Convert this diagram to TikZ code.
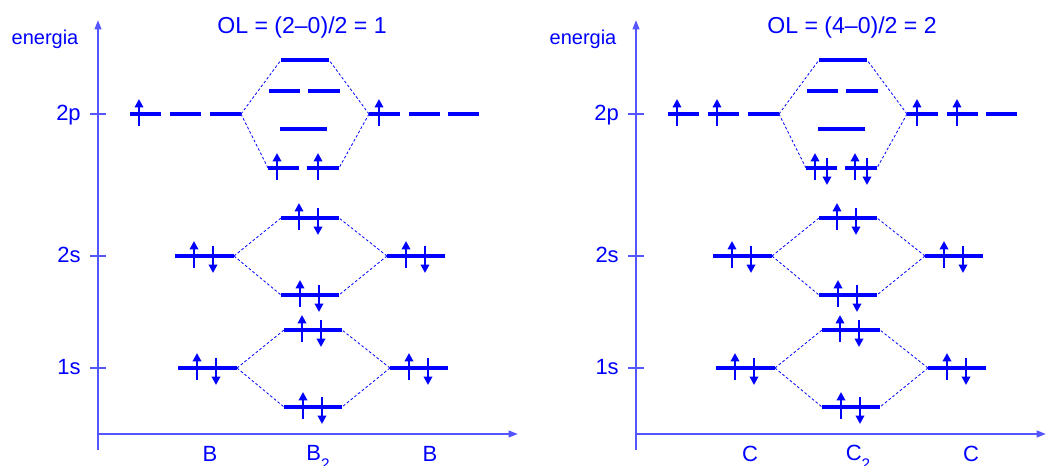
\documentclass[tikz,border=0pt]{standalone}
\usepackage{fontspec}
\setmainfont{Liberation Sans}
\usetikzlibrary{arrows.meta}
\definecolor{mo}{RGB}{0,0,255}
\definecolor{ax}{RGB}{85,85,255}
\newcommand\mlev[4]{\coordinate (#1-l) at (#2,#4); \coordinate (#1-r) at (#3,#4); \draw[level] (#1-l) -- (#1-r);}
\newcommand\eup[2]{\draw[elec] (#1,#2+12) -- (#1,#2-15);}
\newcommand\edn[2]{\draw[elec] (#1,#2-10) -- (#1,#2+17);}
\newcommand\lowsub[1]{\raisebox{-0.42em}{\fontsize{11.5}{12}\selectfont #1}}
\begin{document}
\begin{tikzpicture}[x=0.75pt,y=-0.75pt,
  level/.style={draw=mo,line width=2.3pt},
  elec/.style={draw=mo,line width=2.2pt,-{Triangle[width=6.3pt,length=6.3pt]}},
  link/.style={draw=mo,line width=0.6pt,dash pattern=on 2pt off 1.6pt},
  axisline/.style={draw=ax,line width=1.4pt,-{Triangle[width=5pt,length=7pt]}},
  tickline/.style={draw=ax,line width=0.8pt},
  ttl/.style={text=mo,font=\fontsize{17.3}{20}\selectfont,inner sep=0pt},
  enlbl/.style={text=mo,font=\fontsize{15}{18}\selectfont,inner sep=0pt},
  orb/.style={text=mo,font=\fontsize{16.5}{19}\selectfont,inner sep=0pt,anchor=base east},
  atm/.style={text=mo,font=\fontsize{16.5}{19}\selectfont,inner sep=0pt,anchor=base}]
\useasboundingbox (0,0) rectangle (1046,466);

% ================= common frame (axes) =================
\foreach \sx/\nm in {0/a,538/b}{
\begin{scope}[shift={(\sx,0)}]
  \coordinate (\nm-o) at (98,434);
  \coordinate (\nm-yb) at (98,450);
  \coordinate (\nm-yt) at (98,20);
  \draw[axisline] (\nm-yb) -- (\nm-yt);
  \node[enlbl,anchor=base] (\nm-en) at (45,45) {energia};
  \foreach \yy/\tx/\tn in {114/2p/p,256/2s/s,368/1s/o}{
    \coordinate (\nm-t\tn1) at (90,\yy);
    \coordinate (\nm-t\tn2) at (106,\yy);
    \draw[tickline] (\nm-t\tn1) -- (\nm-t\tn2);
    \node[orb] (\nm-lab\tn) at (81,\yy+6.5) {\tx};
  }
\end{scope}}
\coordinate (a-xe) at (518,434);
\coordinate (b-xe) at (1046,434);
\draw[axisline] (a-o) -- (a-xe);
\draw[axisline] (b-o) -- (b-xe);

% titles
\node[ttl,anchor=base] (t1) at (302,34) {OL = (2–0)/2 = 1};
\node[ttl,anchor=base] (t2) at (852,34) {OL = (4–0)/2 = 2};

% bottom labels
\node[atm] (bl) at (210,461) {B};
\node[atm] (bm) at (318,460) {B\lowsub{2}};
\node[atm] (br) at (430,461) {B};
\node[atm] (cl) at (750,461) {C};
\node[atm] (cm) at (858,460) {C\lowsub{2}};
\node[atm] (cr) at (971,461) {C};

% ================= both diagrams: 1s, 2s, 2p levels =================
\foreach \sx/\nm in {0/a,538/b}{
\begin{scope}[shift={(\sx,0)}]
  % 2p atoms
  \mlev{\nm-LA2p1}{130}{161}{114}
  \mlev{\nm-LA2p2}{170}{201}{114}
  \mlev{\nm-LA2p3}{210}{241}{114}
  \mlev{\nm-RA2p1}{369}{400}{114}
  \mlev{\nm-RA2p2}{409}{440}{114}
  \mlev{\nm-RA2p3}{448}{479}{114}
  % 2p molecule
  \mlev{\nm-s2ps}{281}{329}{60}
  \mlev{\nm-p2ps1}{269}{300}{91}
  \mlev{\nm-p2ps2}{308}{340}{91}
  \mlev{\nm-s2p}{280}{327}{129}
  \mlev{\nm-p2p1}{268}{299}{168}
  \mlev{\nm-p2p2}{307}{339}{168}
  \draw[link] (\nm-LA2p3-r) -- (\nm-s2ps-l);
  \draw[link] (\nm-LA2p3-r) -- (\nm-p2p1-l);
  \draw[link] (\nm-RA2p1-l) -- (\nm-s2ps-r);
  \draw[link] (\nm-RA2p1-l) -- (\nm-p2p2-r);
  % 2s
  \mlev{\nm-LA2s}{175}{234}{256}
  \mlev{\nm-RA2s}{387}{445}{256}
  \mlev{\nm-s2ss}{281}{339}{218}
  \mlev{\nm-s2s}{281}{339}{295}
  \draw[link] (\nm-LA2s-r) -- (\nm-s2ss-l);
  \draw[link] (\nm-LA2s-r) -- (\nm-s2s-l);
  \draw[link] (\nm-RA2s-l) -- (\nm-s2ss-r);
  \draw[link] (\nm-RA2s-l) -- (\nm-s2s-r);
  \eup{194}{256}\edn{213}{256}
  \eup{406}{256}\edn{425}{256}
  \eup{299}{218}\edn{318}{218}
  \eup{300}{295}\edn{319}{295}
  % 1s
  \mlev{\nm-LA1s}{178}{237}{368}
  \mlev{\nm-RA1s}{390}{448}{368}
  \mlev{\nm-s1ss}{284}{342}{330}
  \mlev{\nm-s1s}{284}{342}{407}
  \draw[link] (\nm-LA1s-r) -- (\nm-s1ss-l);
  \draw[link] (\nm-LA1s-r) -- (\nm-s1s-l);
  \draw[link] (\nm-RA1s-l) -- (\nm-s1ss-r);
  \draw[link] (\nm-RA1s-l) -- (\nm-s1s-r);
  \eup{197}{368}\edn{216}{368}
  \eup{409}{368}\edn{428}{368}
  \eup{302}{330}\edn{321}{330}
  \eup{303}{407}\edn{322}{407}
\end{scope}}

% ================= 2p electrons =================
% B / B2
\eup{139}{114}
\eup{379}{114}
\eup{277}{168}
\eup{318}{168}
% C / C2
\eup{677}{114}\eup{717}{114}
\eup{917}{114}\eup{957}{114}
\eup{815}{168}\edn{827}{168}
\eup{855}{168}\edn{867}{168}
\end{tikzpicture}
\end{document}
